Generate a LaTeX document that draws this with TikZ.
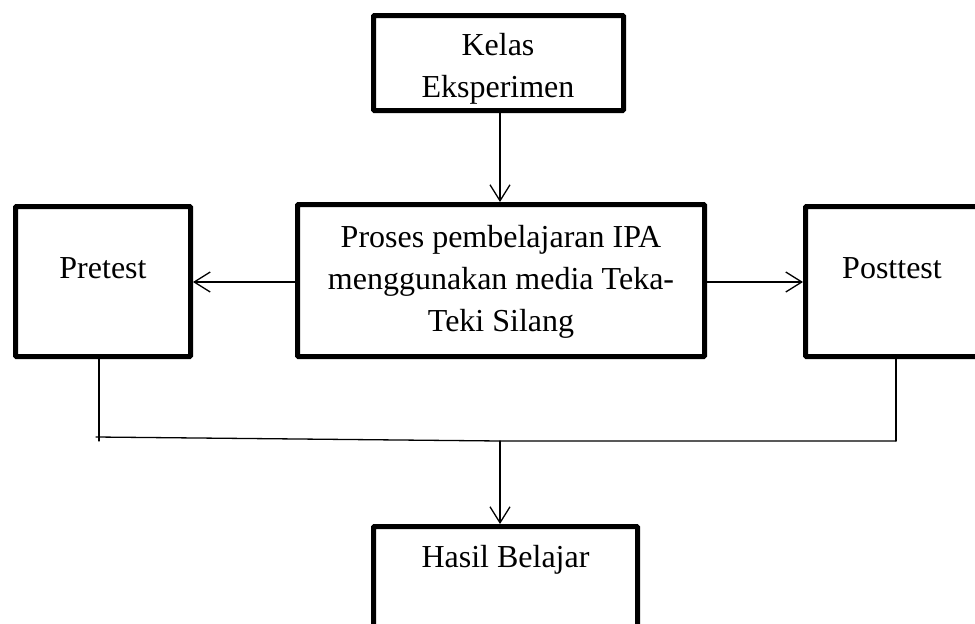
\documentclass[tikz,border=0pt]{standalone}
\usepackage{fontspec}
\setmainfont{Liberation Serif}
\usetikzlibrary{arrows.meta,calc}
\begin{document}
\begin{tikzpicture}[x=1pt,y=-1pt,
  box/.style={draw=black,line width=5pt,rounded corners=1pt,minimum width=#1},
  lbl/.style={font=\fontsize{32}{42}\selectfont,inner sep=0pt,align=center},
  thin/.style={line width=1.3pt,line cap=round},
  arr/.style={thin,-{Straight Barb[length=16pt,width=20pt]}}]
\useasboundingbox (0,0) rectangle (975,624);
\clip (0,0) rectangle (975,624);
% boxes
\node[box=250pt,minimum height=95pt] (kelas) at (498.5,63) {};
\node[box=407pt,minimum height=152pt] (mid) at (501,280.5) {};
\node[box=175pt,minimum height=150pt] (pre) at (103,281.5) {};
\node[box=173pt,minimum height=150pt] (post) at (892,281.5) {};
\node[box=264pt,minimum height=130pt] (hasil) at (505.5,591.5) {};
% texts (base = baseline of the last line)
\node[lbl,anchor=base] (kelast) at (498,97) {Kelas\\Eksperimen};
\node[lbl,anchor=base] (midt) at (501,331) {Proses pembelajaran IPA\\menggunakan media Teka-\\Teki Silang};
\node[lbl,anchor=base] (pret) at (103,278) {Pretest};
\node[lbl,anchor=base] (postt) at (892,278) {Posttest};
\node[lbl,anchor=base] (hasilt) at (505.5,567) {Hasil Belajar};
% connectors
\coordinate (pl) at (99,441);
\coordinate (jl) at (96,437);
\coordinate (jm) at (500,441);
\coordinate (jr) at (896,441);
\draw[arr] (kelas.south -| jm) -- (mid.north -| jm);
\draw[arr] (mid.west |- 0,282) -- (pre.east |- 0,282);
\draw[arr] (mid.east |- 0,282) -- (post.west |- 0,282);
\draw[thin] (pre.south -| pl) -- (pl);
\draw[thin] (jl) -- (jm) -- (jr);
\draw[thin] (post.south -| jr) -- (jr);
\draw[arr] (jm) -- (hasil.north -| jm);
\end{tikzpicture}
\end{document}
